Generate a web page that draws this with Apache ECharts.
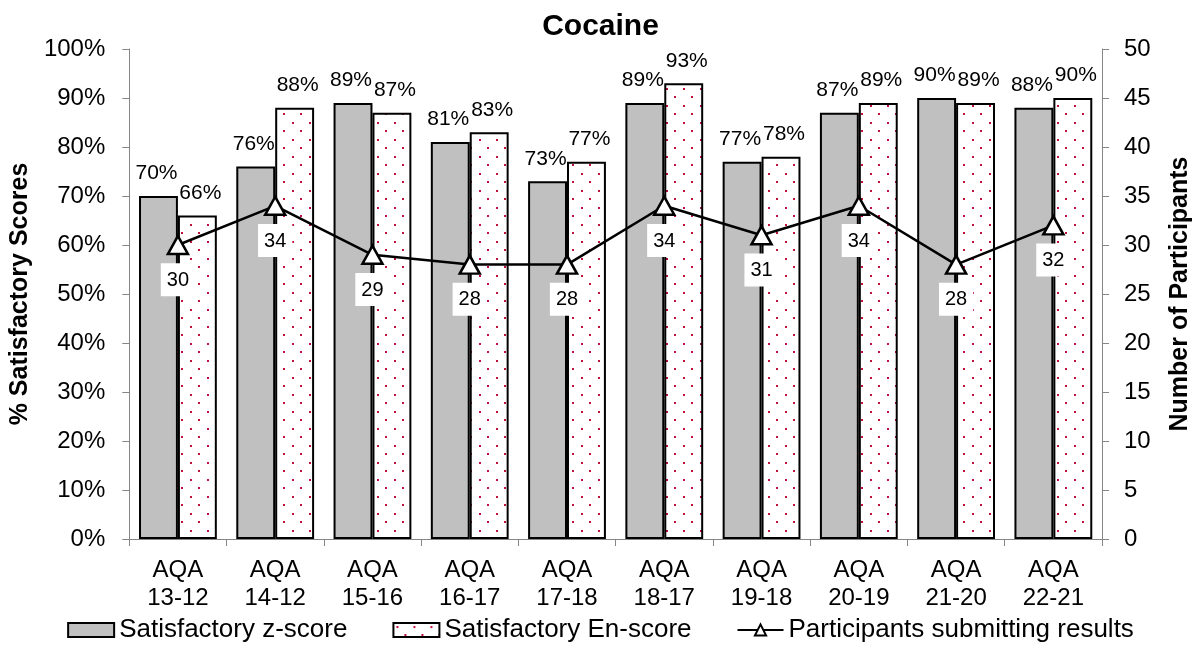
<!DOCTYPE html>
<html>
<head>
<meta charset="utf-8">
<style>
  html, body { margin: 0; padding: 0; background: #fff; }
  #chart { width: 1201px; height: 650px; }
</style>
<script src="https://cdn.jsdelivr.net/npm/echarts@6/dist/echarts.min.js"></script>
</head>
<body>
<div id="chart"></div>
<script>
// Proficiency rounds (two-line axis labels)
const rounds = ['AQA\n13-12', 'AQA\n14-12', 'AQA\n15-16', 'AQA\n16-17', 'AQA\n17-18',
                'AQA\n18-17', 'AQA\n19-18', 'AQA\n20-19', 'AQA\n21-20', 'AQA\n22-21'];
// Percentage of satisfactory scores
const zScore  = [70, 76, 89, 81, 73, 89, 77, 87, 90, 88];
const enScore = [66, 88, 87, 83, 77, 93, 78, 89, 89, 90];
// Number of participants submitting results
const participants = [30, 34, 29, 28, 28, 34, 31, 34, 28, 32];

const FONT = '"Liberation Sans", Arial, sans-serif';

// Red dot fill for the En-score bars
function dotPattern() {
  const c = document.createElement('canvas');
  c.width = 17; c.height = 17;
  const g = c.getContext('2d');
  g.fillStyle = '#ffffff';
  g.fillRect(0, 0, 17, 17);
  g.fillStyle = '#c0103c';
  g.fillRect(3, 3, 2, 2);
  g.fillRect(11, 11, 2, 2);
  return c;
}

const chart = echarts.init(document.getElementById('chart'), null, { renderer: 'canvas' });

const axisLineStyle = { show: true, lineStyle: { color: '#868686', width: 1 } };
const axisTickStyle = { show: true, inside: false, length: 7, lineStyle: { color: '#868686', width: 1 } };

chart.setOption({
  animation: false,
  backgroundColor: '#ffffff',
  textStyle: { fontFamily: FONT },
  title: {
    text: 'Cocaine',
    left: 'center',
    top: 7,
    textStyle: { fontFamily: FONT, fontSize: 30, fontWeight: 'bold', color: '#000' }
  },
  grid: { left: 128, right: 94, top: 49, bottom: 111, containLabel: false },
  legend: {
    bottom: 2,
    left: 'center',
    itemWidth: 46,
    itemHeight: 14,
    itemGap: 45,
    textStyle: { fontFamily: FONT, fontSize: 26, color: '#000' },
    data: [
      { name: 'Satisfactory z-score', icon: 'rect' },
      { name: 'Satisfactory En-score', icon: 'rect' },
      { name: 'Participants submitting results' }
    ]
  },
  xAxis: {
    type: 'category',
    data: rounds,
    axisLine: axisLineStyle,
    axisTick: axisTickStyle,
    axisLabel: { fontFamily: FONT, fontSize: 24, lineHeight: 28, color: '#000', margin: 17, interval: 0 },
    splitLine: { show: false }
  },
  yAxis: [
    {
      type: 'value',
      min: 0, max: 100, interval: 10,
      name: '% Satisfactory Scores',
      nameLocation: 'middle',
      nameGap: 96,
      nameTextStyle: { fontFamily: FONT, fontSize: 25, fontWeight: 'bold', color: '#000' },
      axisLine: axisLineStyle,
      axisTick: axisTickStyle,
      axisLabel: { formatter: '{value}%', fontFamily: FONT, fontSize: 24, color: '#000', margin: 24 },
      splitLine: { show: false }
    },
    {
      type: 'value',
      min: 0, max: 50, interval: 5,
      position: 'right',
      name: 'Number of Participants',
      nameLocation: 'middle',
      nameGap: 66,
      nameTextStyle: { fontFamily: FONT, fontSize: 25, fontWeight: 'bold', color: '#000' },
      axisLine: axisLineStyle,
      axisTick: axisTickStyle,
      axisLabel: { fontFamily: FONT, fontSize: 24, color: '#000', margin: 22 },
      splitLine: { show: false }
    }
  ],
  series: [
    {
      name: 'Satisfactory z-score',
      type: 'bar',
      data: zScore,
      barGap: '0%',
      barCategoryGap: '20%',
      itemStyle: { color: '#c0c0c0', borderColor: '#000', borderWidth: 2 },
      label: {
        show: true, position: 'top', distance: 12, offset: [-2, 0],
        formatter: '{c}%', fontFamily: FONT, fontSize: 21, color: '#000'
      },
      z: 2
    },
    {
      name: 'Satisfactory En-score',
      type: 'bar',
      data: enScore,
      itemStyle: { color: { image: dotPattern(), repeat: 'repeat' }, borderColor: '#000', borderWidth: 2 },
      label: {
        show: true, position: 'top', distance: 12, offset: [3, 0],
        formatter: '{c}%', fontFamily: FONT, fontSize: 21, color: '#000'
      },
      z: 2
    },
    {
      name: 'Participants submitting results',
      type: 'line',
      yAxisIndex: 1,
      data: participants,
      symbol: 'triangle',
      symbolSize: [20, 18],
      showAllSymbol: true,
      lineStyle: { color: '#000', width: 2.5 },
      itemStyle: { color: '#fff', borderColor: '#000', borderWidth: 2.5 },
      label: {
        show: true, position: 'bottom', distance: 8,
        fontFamily: FONT, fontSize: 20, color: '#000',
        backgroundColor: '#fff', padding: [7, 6, 6, 6]
      },
      z: 5
    }
  ]
});
</script>
</body>
</html>
